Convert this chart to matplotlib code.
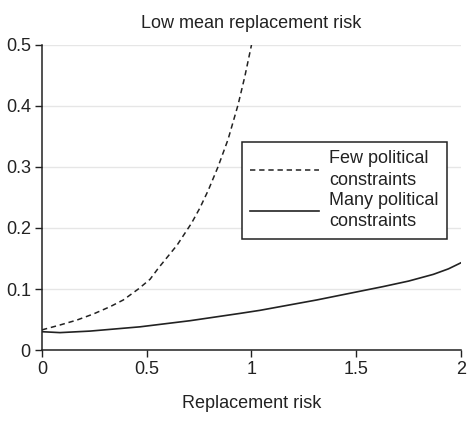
import matplotlib
matplotlib.use('Agg')
import matplotlib.pyplot as plt
plt.rcParams['font.family'] = ['Liberation Sans', 'DejaVu Sans']

# values
few_x = [0.0, 0.086, 0.166, 0.245, 0.325, 0.388, 0.46, 0.516, 0.555, 0.645,
         0.714, 0.754, 0.794, 0.84, 0.888, 0.936, 0.968, 1.0]
few_y = [0.033, 0.041, 0.049, 0.059, 0.071, 0.082, 0.100, 0.116, 0.134, 0.172,
         0.208, 0.233, 0.262, 0.300, 0.345, 0.402, 0.448, 0.5]

many_x = [0.0, 0.086, 0.229, 0.468, 0.706, 0.945, 1.04, 1.311, 1.629, 1.75,
          1.868, 1.94, 2.0]
many_y = [0.030, 0.0285, 0.031, 0.038, 0.048, 0.060, 0.065, 0.082, 0.104, 0.113,
          0.124, 0.133, 0.143]

x_ticks = [0, 0.5, 1, 1.5, 2]
x_labels = ['0', '0.5', '1', '1.5', '2']
y_ticks = [0, 0.1, 0.2, 0.3, 0.4, 0.5]
y_labels = ['0', '0.1', '0.2', '0.3', '0.4', '0.5']

fig = plt.figure(figsize=(4.68, 4.22), dpi=100)
ax = fig.add_axes([0.0897, 0.1706, 0.8953, 0.7228])

ax.plot(few_x, few_y, color='#222222', lw=1.1, linestyle=(0, (3.5, 2.5)),
        label='Few political\nconstraints')
ax.plot(many_x, many_y, color='#222222', lw=1.2, label='Many political\nconstraints')

ax.set_xlim(0, 2)
ax.set_ylim(0, 0.5)
ax.set_xticks(x_ticks)
ax.set_xticklabels(x_labels)
ax.set_yticks(y_ticks)
ax.set_yticklabels(y_labels)
ax.tick_params(direction='out', length=5, width=1, labelsize=13, color='#222222',
               labelcolor='#222222', pad=3)
ax.yaxis.grid(True, color='#e6e6e6', lw=1)
ax.set_axisbelow(True)
for s in ['top', 'right']:
    ax.spines[s].set_visible(False)
for s in ['left', 'bottom']:
    ax.spines[s].set_color('#222222')
    ax.spines[s].set_linewidth(1.1)

ax.set_title('Low mean replacement risk', fontsize=13, color='#222222', pad=12)
ax.set_xlabel('Replacement risk', fontsize=13, color='#222222', labelpad=12)

leg = ax.legend(loc='upper left', bbox_to_anchor=(0.477, 0.681), fontsize=13,
                frameon=True, fancybox=False, edgecolor='#222222', framealpha=1,
                handlelength=3.8, handletextpad=0.6, labelspacing=0.15,
                borderpad=0.45, borderaxespad=0)
leg.get_frame().set_linewidth(1.1)
for t in leg.get_texts():
    t.set_color('#222222')
    t.set_linespacing(1.36)

fig.savefig('out.png', dpi=100)
